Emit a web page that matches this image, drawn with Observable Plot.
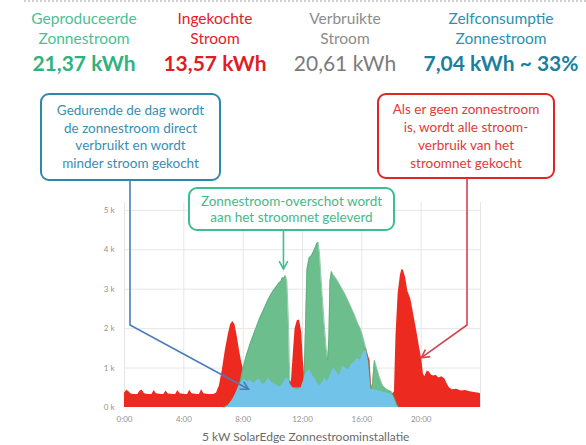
<!DOCTYPE html>
<html><head><meta charset="utf-8">
<script src="https://cdn.jsdelivr.net/npm/d3@7"></script>
<script src="https://cdn.jsdelivr.net/npm/@observablehq/plot@0.6"></script>
<style>
body{margin:0;background:#fff;font-family:Lato,"Open Sans",sans-serif;}
#wrap{position:relative;width:586px;height:445px;overflow:hidden;background:#fff;}
.hl{position:absolute;width:200px;text-align:center;white-space:nowrap;}
.box{position:absolute;box-sizing:border-box;border:2px solid;border-radius:9px;background:#fff;display:flex;flex-direction:column;justify-content:center;align-items:center;text-align:center;white-space:nowrap;}
</style></head><body><div id="wrap"></div>
<script>
// ---- data ----
const headerTitles = [["Geproduceerde","Zonnestroom"],["Ingekochte","Stroom"],["Verbruikte","Stroom"],["Zelfconsumptie","Zonnestroom"]];
const headerValues = ["21,37 kWh","13,57 kWh","20,61 kWh","7,04 kWh ~ 33%"];
const calloutDay = ["Gedurende de dag wordt","de zonnestroom direct","verbruikt en wordt","minder stroom gekocht"];
const calloutNight = ["Als er geen zonnestroom","is, wordt alle stroom-","verbruik van het","stroomnet gekocht"];
const calloutSurplus = ["Zonnestroom-overschot  wordt","aan het stroomnet geleverd"];
const chartTitle = "5 kW SolarEdge Zonnestroominstallatie";
const xTicks = [0,4,8,12,16,20];
const yTicks = [0,1,2,3,4,5];

// consumption (kW) by hour — red
const consumption = [[0,.36],[.15,.44],[.3,.40],[.45,.34],[.6,.33],[.9,.33],[1.05,.42],[1.2,.44],[1.35,.35],[1.6,.33],[1.85,.33],[2.0,.43],[2.15,.35],[2.5,.33],[2.65,.33],[2.8,.42],[2.95,.34],[3.3,.33],[3.45,.33],[3.6,.43],[3.75,.35],[4.1,.33],[4.25,.33],[4.4,.44],[4.55,.35],[4.9,.33],[5.05,.33],[5.2,.45],[5.35,.35],[5.7,.33],[6.0,.33],[6.2,.36],[6.4,.55],[6.6,.95],[6.8,1.45],[7.0,1.85],[7.15,2.1],[7.3,2.18],[7.45,2.1],[7.6,1.8],[7.75,1.45],[7.9,1.15],[8.0,1.0],[8.1,.72],[8.3,.65],[8.5,.7],[8.7,.6],[8.9,.68],[9.1,.72],[9.3,.58],[9.5,.62],[9.7,.75],[9.9,.65],[10.1,.6],[10.3,.55],[10.5,.52],[10.7,.6],[10.9,.75],[11.1,.7],[11.25,.65],[11.35,1.2],[11.5,2.0],[11.65,2.2],[11.8,2.22],[11.95,1.9],[12.05,1.2],[12.15,.8],[12.3,.9],[12.5,.95],[12.7,.8],[12.9,.7],[13.1,.55],[13.3,.6],[13.5,.75],[13.7,.65],[13.9,.85],[14.1,1.0],[14.3,.9],[14.5,.8],[14.7,1.05],[14.9,1.0],[15.1,.95],[15.3,1.1],[15.5,1.15],[15.7,1.25],[15.9,1.2],[16.1,1.4],[16.3,1.5],[16.45,1.3],[16.55,1.2],[16.65,.55],[16.8,.45],[17.1,.42],[17.5,.38],[17.9,.35],[18.1,.35],[18.2,.4],[18.3,1.8],[18.45,2.9],[18.6,3.35],[18.7,3.5],[18.8,3.48],[18.95,3.3],[19.1,2.95],[19.3,2.75],[19.5,2.35],[19.7,1.95],[19.9,1.5],[20.05,1.2],[20.15,.85],[20.25,.78],[20.4,.92],[20.55,.9],[20.7,.82],[20.85,.8],[21.0,.82],[21.2,.75],[21.4,.78],[21.6,.72],[21.75,.6],[21.9,.5],[22.1,.45],[22.4,.46],[22.7,.42],[23.0,.43],[23.3,.4],[23.6,.38],[23.9,.36],[24,.35]];

// solar production (kW) by hour — green
const production = [[6.7,0],[7.0,.05],[7.3,.2],[7.5,.35],[7.8,.65],[8.0,1.0],[8.2,1.3],[8.5,1.65],[8.8,1.95],[9.1,2.25],[9.4,2.5],[9.7,2.75],[10.0,2.95],[10.2,3.05],[10.4,3.15],[10.55,3.2],[10.65,3.3],[10.75,3.28],[10.85,3.35],[10.95,3.2],[11.05,2.2],[11.15,.6],[11.3,.5],[11.6,.5],[11.9,.5],[12.1,.7],[12.2,2.0],[12.3,3.5],[12.45,3.8],[12.6,3.85],[12.8,4.0],[12.95,4.15],[13.05,4.2],[13.15,3.9],[13.3,3.0],[13.45,2.2],[13.6,1.5],[13.7,1.2],[13.78,1.8],[13.85,3.2],[13.95,3.45],[14.1,3.35],[14.3,3.25],[14.6,3.05],[14.9,2.85],[15.2,2.6],[15.5,2.35],[15.7,2.15],[15.9,2.0],[16.1,1.75],[16.3,1.45],[16.45,1.15],[16.55,.7],[16.62,.45],[16.72,.6],[16.85,1.2],[17.0,1.0],[17.2,.75],[17.4,.55],[17.7,.45],[18.0,.4],[18.2,.25],[18.4,.05],[18.5,0]];

// self-consumed solar (kW) by hour — blue
const selfUse = [[6.8,0],[7.0,.05],[7.3,.2],[7.5,.35],[7.8,.6],[8.0,.7],[8.1,.72],[8.3,.65],[8.5,.7],[8.7,.6],[8.9,.68],[9.1,.72],[9.3,.58],[9.5,.62],[9.7,.75],[9.9,.65],[10.1,.6],[10.3,.55],[10.5,.52],[10.7,.6],[10.9,.75],[11.1,.7],[11.15,.6],[11.35,.5],[11.6,.45],[11.9,.48],[12.1,.7],[12.15,.8],[12.3,.9],[12.5,.95],[12.7,.8],[12.9,.7],[13.1,.55],[13.3,.6],[13.5,.75],[13.7,.65],[13.9,.85],[14.1,1.0],[14.3,.9],[14.5,.8],[14.7,1.05],[14.9,1.0],[15.1,.95],[15.3,1.1],[15.5,1.15],[15.7,1.25],[15.9,1.2],[16.1,1.4],[16.3,1.45],[16.45,1.15],[16.55,.7],[16.62,.45],[16.8,.45],[17.1,.42],[17.5,.38],[17.9,.35],[18.1,.3],[18.2,.2],[18.35,.05],[18.45,0]];

// ---- layout ----
const wrap = document.getElementById("wrap");
const PLOT_TOP = 190;

// dotted top rule
const rule = document.createElement("div");
rule.style.cssText = "position:absolute;left:24px;right:0;top:0;border-top:2px dotted #cfcfcf;";
wrap.appendChild(rule);

const colCenters = [84, 215, 345, 501];
const titleColors = ["#4cbf94", "#e3202b", "#8c8c8c", "#2a91b0"];
const valueColors = ["#2eb27f", "#e01c24", "#7b7b7b", "#1c7f9e"];
const valueWeights = ["700", "700", "400", "700"];
headerTitles.forEach((lines, i) => {
  lines.forEach((t, j) => {
    const d = document.createElement("div");
    d.className = "hl";
    d.textContent = t;
    d.style.cssText += `left:${colCenters[i]-100}px;top:${[8,28][j]}px;line-height:20px;font-size:15.5px;color:${titleColors[i]};`;
    wrap.appendChild(d);
  });
  const v = document.createElement("div");
  v.className = "hl";
  v.textContent = headerValues[i];
  v.style.cssText += `left:${colCenters[i]-100}px;top:50px;line-height:26px;font-size:21px;font-weight:${valueWeights[i]};color:${valueColors[i]};`;
  wrap.appendChild(v);
});

const xy = d => d[0], yv = d => d[1];
const chart = Plot.plot({
  width: 586, height: 238,
  marginTop: 12, marginBottom: 21, marginLeft: 124, marginRight: 106,
  style: {fontFamily: "Lato, sans-serif", fontSize: "8px", color: "#929292", background: "transparent", overflow: "visible"},
  x: {domain: [0, 24], ticks: xTicks, tickFormat: d => d + ":00", label: null, tickSize: 0, tickPadding: 9},
  y: {domain: [0, 5.2], ticks: yTicks, tickFormat: d => d + " k", label: null, tickSize: 0, tickPadding: 10},
  marks: [
    Plot.gridX([0,4,8,12,16,20,24], {stroke: "#e6e6e6", strokeOpacity: 1}),
    Plot.gridY([1,2,3,4,5], {stroke: "#e6e6e6", strokeOpacity: 1}),
    Plot.areaY(consumption, {x: xy, y: yv, fill: "#ec2a20"}),
    Plot.areaY(production, {x: xy, y: yv, fill: "#6cbf8c"}),
    Plot.lineY(production, {x: xy, y: yv, stroke: "#55a877", strokeWidth: 0.6}),
    Plot.areaY(selfUse, {x: xy, y: yv, fill: "#72c3ea"})
  ]
});
chart.style.position = "absolute";
chart.style.left = "0px";
chart.style.top = PLOT_TOP + "px";
wrap.appendChild(chart);

const sx = chart.scale("x"), sy = chart.scale("y");
const fx = sx.apply ? (v => sx.apply(v)) : d3.scaleLinear(sx.domain, sx.range);
const fy = sy.apply ? (v => sy.apply(v)) : d3.scaleLinear(sy.domain, sy.range);

// chart title
const t = document.createElement("div");
t.className = "hl";
t.textContent = chartTitle;
t.style.cssText += `left:${fx(12)-100}px;top:428px;line-height:18px;font-size:12px;color:#6a6a6a;`;
wrap.appendChild(t);

// callout arrows
const ns = "http://www.w3.org/2000/svg";
const ov = document.createElementNS(ns, "svg");
ov.setAttribute("width", 586); ov.setAttribute("height", 445);
ov.style.cssText = "position:absolute;left:0;top:0;";
wrap.appendChild(ov);
function arrow(pts, color) {
  const pl = document.createElementNS(ns, "polyline");
  pl.setAttribute("points", pts.map(p => p.join(",")).join(" "));
  pl.setAttribute("fill", "none"); pl.setAttribute("stroke", color); pl.setAttribute("stroke-width", 1.6);
  ov.appendChild(pl);
  const [x1, y1] = pts[pts.length - 2], [x2, y2] = pts[pts.length - 1];
  const a = Math.atan2(y2 - y1, x2 - x1), L = 9, s = 0.5;
  const head = document.createElementNS(ns, "polyline");
  head.setAttribute("points", [[x2 - L*Math.cos(a - s), y2 - L*Math.sin(a - s)], [x2, y2], [x2 - L*Math.cos(a + s), y2 - L*Math.sin(a + s)]].map(p => p.join(",")).join(" "));
  head.setAttribute("fill", "none"); head.setAttribute("stroke", color); head.setAttribute("stroke-width", 1.6);
  ov.appendChild(head);
}
arrow([[130, 181], [130, 325], [fx(8.4), PLOT_TOP + fy(0.45)]], "#4a7db8");
arrow([[467, 179], [467, 325], [fx(20.05), PLOT_TOP + fy(1.25)]], "#cf4450");
const gx = fx(10.75);
arrow([[gx, 231], [gx, PLOT_TOP + fy(3.5)]], "#3cbf91");

// callout boxes
function box(lines, left, top, w, h, border, color, lh, fs) {
  const b = document.createElement("div");
  b.className = "box";
  b.style.cssText += `left:${left}px;top:${top}px;width:${w}px;height:${h}px;border-color:${border};color:${color};font-size:${fs}px;line-height:${lh}px;`;
  lines.forEach(l => { const s = document.createElement("div"); s.textContent = l; b.appendChild(s); });
  wrap.appendChild(b);
}
box(calloutDay, 40, 93, 181, 88, "#2e89a8", "#3a8db3", 17.5, 13.5);
box(calloutNight, 377, 93, 178, 86, "#e02525", "#e23a3a", 18, 13.5);
box(calloutSurplus, 188, 187, 207, 44, "#3cbf8f", "#45b98a", 16, 13.5);
</script></body></html>
